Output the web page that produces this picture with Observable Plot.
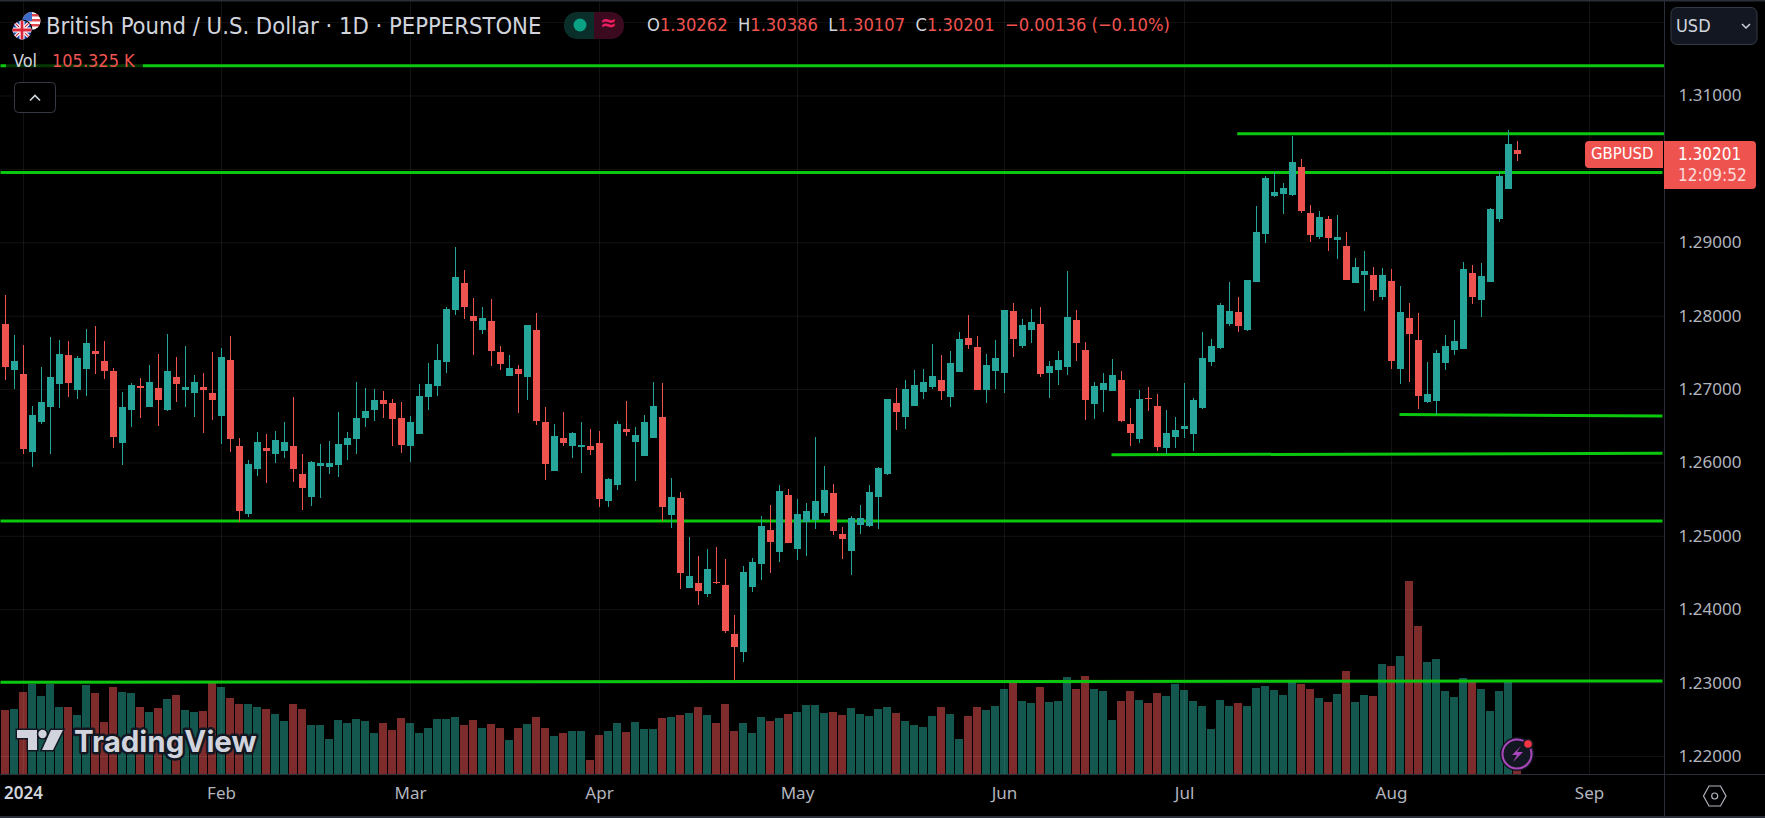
<!DOCTYPE html>
<html><head><meta charset="utf-8">
<style>
html,body{margin:0;padding:0;background:#000;width:1765px;height:818px;overflow:hidden}
#c{position:relative;width:1765px;height:818px;overflow:hidden;font-family:"DejaVu Sans Condensed","DejaVu Sans",sans-serif;font-stretch:condensed}
#c svg.layer{position:absolute;left:0;top:0}
.t{position:absolute;white-space:nowrap;line-height:1}
.r{color:#ef5350}.w{color:#d1d4dc}
</style>
<script src="https://cdn.jsdelivr.net/npm/d3@7"></script>
<script src="https://cdn.jsdelivr.net/npm/@observablehq/plot@0.6"></script>
</head><body><div id="c"></div>
<script>
const opens=[1.27886,1.27260,1.27205,1.26142,1.26551,1.26755,1.27069,1.27464,1.26987,1.27273,1.27519,1.27382,1.27246,1.26265,1.26715,1.27042,1.26755,1.27014,1.26715,1.27164,1.26987,1.26946,1.27028,1.26946,1.26633,1.27396,1.26224,1.25298,1.25911,1.26197,1.26115,1.26156,1.26224,1.25843,1.25529,1.25952,1.25938,1.25965,1.26238,1.26319,1.26606,1.26715,1.26851,1.26810,1.26606,1.26224,1.26388,1.26892,1.27041,1.27368,1.28077,1.28445,1.27995,1.27805,1.27927,1.27505,1.27178,1.27273,1.27164,1.27805,1.26551,1.25883,1.26333,1.26224,1.26210,1.26224,1.26265,1.25474,1.25692,1.26456,1.26278,1.26088,1.26333,1.26619,1.25284,1.25515,1.24289,1.24357,1.24207,1.24371,1.24330,1.23662,1.23417,1.24303,1.24616,1.25079,1.24780,1.25556,1.24820,1.25188,1.25216,1.25311,1.25583,1.25025,1.24793,1.25147,1.25134,1.25529,1.25842,1.26810,1.26619,1.26769,1.26960,1.27028,1.27123,1.26891,1.27232,1.27695,1.27573,1.26987,1.27246,1.27218,1.28063,1.27586,1.27804,1.27886,1.27218,1.27259,1.27300,1.27941,1.27532,1.26796,1.26987,1.26973,1.27123,1.26524,1.26319,1.26878,1.26769,1.26197,1.26346,1.26455,1.26387,1.26742,1.27368,1.27559,1.27886,1.28050,1.27804,1.28458,1.29112,1.29630,1.29657,1.29644,1.30025,1.29399,1.29071,1.29317,1.29031,1.28949,1.28445,1.28554,1.28554,1.28254,1.28472,1.27273,1.27968,1.27668,1.26823,1.26837,1.27355,1.27532,1.27545,1.28581,1.28213,1.28458,1.29317,1.29726,1.30262];
const closes=[1.27301,1.27382,1.26183,1.26646,1.26824,1.27164,1.27478,1.27083,1.27423,1.27628,1.27478,1.27246,1.26347,1.26755,1.27055,1.27014,1.27096,1.26851,1.27246,1.27069,1.27028,1.27096,1.26987,1.26851,1.27437,1.26319,1.25338,1.25979,1.26279,1.26156,1.26306,1.26279,1.25911,1.25652,1.26006,1.25992,1.25992,1.26251,1.26333,1.26606,1.26701,1.26851,1.26796,1.26592,1.26238,1.26551,1.26905,1.27069,1.27396,1.28091,1.28527,1.28118,1.27927,1.27968,1.27518,1.27341,1.27287,1.27205,1.27873,1.26565,1.25979,1.26360,1.26265,1.26401,1.26238,1.26169,1.25502,1.25774,1.26524,1.26415,1.26374,1.26551,1.26769,1.25393,1.25529,1.24493,1.24453,1.24248,1.24548,1.24357,1.23703,1.23485,1.24507,1.24643,1.25134,1.24916,1.25611,1.24902,1.25297,1.25338,1.25474,1.25624,1.25066,1.24957,1.25243,1.25243,1.25597,1.25924,1.26864,1.26687,1.27000,1.27055,1.27096,1.27178,1.26973,1.27355,1.27682,1.27600,1.26987,1.27327,1.27423,1.28077,1.27682,1.27873,1.27913,1.27205,1.27314,1.27396,1.27982,1.27627,1.26851,1.27041,1.27082,1.27191,1.26564,1.26401,1.26864,1.26864,1.26210,1.26401,1.26442,1.26496,1.26851,1.27423,1.27586,1.28145,1.28063,1.27859,1.28486,1.29140,1.29875,1.29685,1.29739,1.30093,1.29426,1.29099,1.29344,1.29058,1.29071,1.28486,1.28663,1.28608,1.28349,1.28554,1.27382,1.28050,1.27750,1.26905,1.26932,1.27491,1.27586,1.27654,1.28635,1.28254,1.28540,1.29453,1.29903,1.30339,1.30201];
const highs=[1.28282,1.27737,1.27600,1.26769,1.27301,1.27709,1.27668,1.27655,1.27450,1.27818,1.27859,1.27655,1.27287,1.26960,1.27083,1.27151,1.27328,1.27478,1.27750,1.27437,1.27587,1.27192,1.27219,1.27505,1.27555,1.27723,1.26333,1.26033,1.26415,1.26388,1.26428,1.26551,1.26892,1.26115,1.26020,1.26251,1.26292,1.26687,1.26415,1.27096,1.27014,1.27001,1.26974,1.26865,1.26824,1.26633,1.27069,1.27355,1.27614,1.28118,1.28935,1.28622,1.28241,1.28118,1.28227,1.27587,1.27464,1.27328,1.27873,1.28036,1.26755,1.26524,1.26687,1.26415,1.26551,1.26456,1.26428,1.25788,1.26565,1.26837,1.26483,1.26646,1.27096,1.27082,1.25788,1.25597,1.24984,1.24725,1.24820,1.24848,1.24684,1.23921,1.24589,1.24698,1.25270,1.25420,1.25692,1.25638,1.25502,1.25447,1.26347,1.25951,1.25706,1.25120,1.25270,1.25420,1.25692,1.25938,1.26864,1.27014,1.27123,1.27259,1.27273,1.27614,1.27464,1.27518,1.27777,1.28009,1.27723,1.27477,1.27668,1.28077,1.28172,1.27954,1.28091,1.28118,1.27382,1.27518,1.28608,1.28077,1.27641,1.27096,1.27218,1.27409,1.27246,1.26742,1.26987,1.27028,1.26932,1.26714,1.26619,1.27082,1.26878,1.27777,1.27682,1.28172,1.28458,1.28254,1.28486,1.29494,1.29903,1.29957,1.29807,1.30448,1.30134,1.29508,1.29426,1.29358,1.29371,1.29140,1.28785,1.28881,1.28663,1.28649,1.28635,1.28404,1.28172,1.28036,1.27368,1.27532,1.27736,1.27941,1.28731,1.28690,1.28717,1.29467,1.29957,1.30529,1.30386];
const lows=[1.27123,1.27001,1.26115,1.25938,1.26524,1.26115,1.26742,1.26892,1.26865,1.26905,1.27205,1.27137,1.26197,1.25965,1.26483,1.26606,1.26755,1.26497,1.26701,1.26824,1.26755,1.26619,1.26401,1.26578,1.26251,1.26142,1.25193,1.25257,1.25815,1.25720,1.25992,1.26061,1.25734,1.25352,1.25407,1.25516,1.25843,1.25802,1.26033,1.26115,1.26483,1.26565,1.26606,1.26224,1.26129,1.26006,1.26388,1.26715,1.26905,1.27219,1.28009,1.27954,1.27464,1.27750,1.27314,1.27259,1.27178,1.26674,1.26851,1.26510,1.25761,1.25883,1.26224,1.26060,1.25856,1.26101,1.25393,1.25393,1.25624,1.26360,1.25747,1.26088,1.26333,1.25202,1.25107,1.24275,1.24289,1.24057,1.24166,1.24344,1.23676,1.23035,1.23281,1.24235,1.24398,1.24493,1.24643,1.24902,1.24671,1.24725,1.25093,1.25270,1.25011,1.24684,1.24466,1.25025,1.25120,1.25093,1.25829,1.26442,1.26455,1.26769,1.26864,1.27000,1.26851,1.26755,1.27232,1.27546,1.26987,1.26810,1.27000,1.26946,1.27436,1.27559,1.27627,1.27164,1.26878,1.27055,1.27191,1.27382,1.26578,1.26592,1.26687,1.26973,1.26551,1.26224,1.26265,1.26701,1.26156,1.26115,1.26197,1.26333,1.26156,1.26728,1.27314,1.27546,1.27859,1.27777,1.27791,1.28458,1.28990,1.29617,1.29385,1.29630,1.29399,1.29003,1.29044,1.28881,1.28772,1.28486,1.28445,1.28063,1.28199,1.28213,1.27273,1.27068,1.27096,1.26728,1.26810,1.26646,1.27259,1.27464,1.27545,1.28159,1.27981,1.28458,1.29276,1.29726,1.30107];
const volumes=[192,195,246,270,234,270,201,201,177,267,243,156,261,246,243,201,186,198,225,237,192,186,189,273,261,228,210,210,201,195,180,159,210,195,147,147,105,162,153,165,159,123,153,132,168,153,123,138,165,165,171,147,162,138,150,138,102,138,150,171,138,114,123,129,129,42,117,129,153,126,156,135,135,168,171,177,183,201,177,153,210,129,153,123,171,159,168,180,186,207,207,183,186,177,198,180,174,195,201,183,159,147,141,174,201,180,105,174,201,192,204,255,276,219,213,261,216,219,291,255,294,255,249,162,219,249,222,213,243,234,270,252,219,204,135,222,204,213,204,258,264,252,237,276,270,255,228,216,240,309,216,237,234,330,324,354,579,444,336,345,249,231,288,276,255,189,249,279,105.325];
const priceTicks=[1.22,1.23,1.24,1.25,1.26,1.27,1.28,1.29,1.31];
const gridPrices=[1.22,1.23,1.24,1.25,1.26,1.27,1.28,1.29,1.30,1.31,1.32];
const monthBars=[24,45,66,88,111,131,154,176];
const monthLabels=["Feb","Mar","Apr","May","Jun","Jul","Aug","Sep"];
const yearBar=[2];
const yearLabel="2024";
const levelStartBar=[-0.556,-0.556,136.86,154.89,122.89,-0.556,-0.556];
const levelEndBar=[184.33,184.11,184.33,184.11,184.11,184.11,184.11];
const levelStartPrice=[1.31411,1.29958,1.30485,1.26660,1.26111,1.25209,1.23013];
const levelEndPrice=[1.31411,1.29958,1.30485,1.26640,1.26131,1.25209,1.23030];

const UP="#26a69a",DOWN="#ef5350",LEVEL="#0bc80f";
const bars=opens.map((o,i)=>({i,open:o,close:closes[i],high:highs[i],low:lows[i],volume:volumes[i],up:closes[i]>=o}));
const levels=levelStartBar.map((x1,k)=>({x1,x2:levelEndBar[k],y1:levelStartPrice[k],y2:levelEndPrice[k]}));
const base={width:1765,height:818,marginLeft:0,marginRight:101,marginTop:0,marginBottom:44,style:{background:"transparent",overflow:"visible"}};
const xDomain=[-5/9,1659/9];

const volPlot=Plot.plot({...base,
  x:{type:"linear",domain:xDomain,axis:null},
  y:{domain:[0,2322],axis:null},
  marks:[Plot.ruleX(bars,{x:"i",y1:0,y2:"volume",dx:-0.5,strokeWidth:8,shapeRendering:"crispEdges",stroke:d=>d.up?"#14574f":"#7d2b2b"})]
});
const pricePlot=Plot.plot({...base,
  x:{type:"linear",domain:xDomain},
  y:{domain:[1.21755,1.32301],label:null},
  marks:[
    Plot.ruleY(gridPrices,{stroke:"#ffffff",strokeOpacity:0.07,strokeWidth:1}),
    Plot.ruleX(monthBars.concat(yearBar),{stroke:"#ffffff",strokeOpacity:0.07,strokeWidth:1}),
    Plot.link(levels,{x1:"x1",x2:"x2",y1:"y1",y2:"y2",stroke:LEVEL,strokeWidth:3}),
    Plot.ruleX(bars,{x:"i",y1:"low",y2:"high",strokeWidth:1,shapeRendering:"crispEdges",stroke:d=>d.up?UP:DOWN}),
    Plot.ruleX(bars,{x:"i",y1:"open",y2:"close",strokeWidth:7,shapeRendering:"crispEdges",stroke:d=>d.up?UP:DOWN}),
    Plot.axisY(priceTicks,{anchor:"right",tickSize:0,tickPadding:14,label:null,tickFormat:d3.format(".5f"),fill:"#b2b5be",fontSize:17}),
    Plot.axisX(monthBars,{anchor:"bottom",tickSize:0,tickPadding:12,label:null,tickFormat:(d)=>monthLabels[monthBars.indexOf(d)],fill:"#b2b5be",fontSize:17}),
    Plot.axisX(yearBar,{anchor:"bottom",tickSize:0,tickPadding:12,label:null,tickFormat:()=>yearLabel,fill:"#d1d4dc",fontSize:17,fontWeight:600})
  ]
});
volPlot.classList.add("layer");pricePlot.classList.add("layer");
const c=document.getElementById("c");
c.appendChild(volPlot);c.appendChild(pricePlot);
const overlay=document.createElement("div");
overlay.innerHTML=`
<svg class="layer" width="1765" height="818" style="pointer-events:none">
  <defs>
    <clipPath id="us"><circle cx="31.5" cy="21" r="9"/></clipPath>
    <clipPath id="gb"><circle cx="22" cy="30" r="9.5"/></clipPath>
  </defs>
  <rect x="0" y="0" width="1765" height="1.5" fill="#2a2e39"/>
  <rect x="0" y="816" width="1765" height="2" fill="#2a2e39"/>
  <rect x="0" y="774" width="1765" height="1" fill="#2a2e39"/>
  <rect x="1664" y="0" width="1" height="816" fill="#2a2e39"/>
  <rect x="6" y="50" width="137" height="22" fill="#000" fill-opacity="0.72"/>
  <g clip-path="url(#us)">
    <rect x="22" y="12" width="20" height="18" fill="#fff"/>
    <rect x="22" y="14" width="20" height="2.5" fill="#e0474c"/><rect x="22" y="19" width="20" height="2.5" fill="#e0474c"/><rect x="22" y="24" width="20" height="2.5" fill="#e0474c"/>
    <rect x="22" y="12" width="10" height="9" fill="#3c6bc9"/>
  </g>
  <circle cx="22" cy="30" r="10.5" fill="#000"/>
  <g clip-path="url(#gb)">
    <rect x="12" y="20" width="20" height="20" fill="#1f4aa8"/>
    <path d="M12 20L32 40M32 20L12 40" stroke="#fff" stroke-width="3.5"/>
    <path d="M12 20L32 40M32 20L12 40" stroke="#d9263a" stroke-width="1.2"/>
    <path d="M22 20V40M12 30H32" stroke="#fff" stroke-width="5"/>
    <path d="M22 20V40M12 30H32" stroke="#d9263a" stroke-width="2.8"/>
  </g>
  <rect x="564" y="12" width="31" height="27" rx="13" fill="#0a2e29"/><rect x="580" y="12" width="15" height="27" fill="#0a2e29"/>
  <rect x="594" y="12" width="30" height="27" rx="13" fill="#3b0a1f"/><rect x="594" y="12" width="15" height="27" fill="#3b0a1f"/>
  <circle cx="580" cy="25" r="6.5" fill="#0ba184"/>
  <rect x="14.5" y="82.5" width="41" height="30" rx="4" fill="#000" stroke="#363a45"/>
  <path d="M30 100.5L35 95.5L40 100.5" fill="none" stroke="#d1d4dc" stroke-width="1.6"/>
  <rect x="1671" y="7.5" width="86" height="37" rx="6" fill="#131722" stroke="#363a45"/>
  <path d="M1742 24L1746 28L1750 24" fill="none" stroke="#d1d4dc" stroke-width="1.5"/>
  <path d="M1664 141H1752a4 4 0 0 1 4 4V185a4 4 0 0 1 -4 4H1664Z" fill="#ef5350"/>
  <path d="M1589 141H1663V168H1589a4 4 0 0 1 -4 -4V145a4 4 0 0 1 4 -4Z" fill="#ef5350"/>
  <path d="M17 730H37V750H28V738H17Z" fill="#d1d4dc" stroke="#131722" stroke-width="3" paint-order="stroke"/>
  <circle cx="42.5" cy="734" r="4.2" fill="#d1d4dc" stroke="#131722" stroke-width="3" paint-order="stroke"/>
  <path d="M51 730H63L53 750H42Z" fill="#d1d4dc" stroke="#131722" stroke-width="3" paint-order="stroke"/>
  <text x="74" y="751.5" font-family="Inter" font-weight="700" font-size="29.5" fill="#d1d4dc" stroke="#131722" stroke-width="5" paint-order="stroke" stroke-linejoin="round">TradingView</text>
  <circle cx="1517" cy="754" r="17" fill="#131722"/>
  <circle cx="1517" cy="754" r="14.5" fill="#131722" stroke="#ab47bc" stroke-width="2"/>
  <path d="M1521 746L1512 755H1517L1513 762L1523 752H1517Z" fill="#ab47bc"/>
  <circle cx="1528" cy="744" r="5.5" fill="#131722"/><circle cx="1528" cy="744" r="3.8" fill="#f23645"/>
  <path d="M1709 786H1720.5L1726 796L1720.5 806H1709L1703.5 796Z" fill="none" stroke="#b2b5be" stroke-width="1.2"/>
  <circle cx="1714.7" cy="796" r="3" fill="none" stroke="#b2b5be" stroke-width="1.2"/>
</svg>
<div class="t w" style="left:46px;top:15px;font-size:23.6px">British Pound / U.S. Dollar · 1D · PEPPERSTONE</div>
<div class="t" style="left:600px;top:12px;font-size:22px;color:#e91e63;font-weight:700">≈</div>
<div class="t w" style="left:647px;top:16px;font-size:18.2px"><span>O</span><span class="r">1.30262</span>&nbsp;&nbsp;<span>H</span><span class="r">1.30386</span>&nbsp;&nbsp;<span>L</span><span class="r">1.30107</span>&nbsp;&nbsp;<span>C</span><span class="r">1.30201</span>&nbsp;&nbsp;<span class="r">−0.00136 (−0.10%)</span></div>
<div class="t w" style="left:13px;top:52px;font-size:18px">Vol</div>
<div class="t r" style="left:52px;top:52px;font-size:18px">105.325 K</div>
<div class="t w" style="left:1676px;top:17px;font-size:18px">USD</div>
<div class="t" style="left:1591px;top:146px;font-size:16.5px;color:#fff">GBPUSD</div>
<div class="t" style="left:1678px;top:146px;font-size:17px;color:#fff">1.30201</div>
<div class="t" style="left:1678px;top:167px;font-size:17px;color:#ffffff;opacity:.78">12:09:52</div>`;
c.appendChild(overlay);
</script></body></html>
